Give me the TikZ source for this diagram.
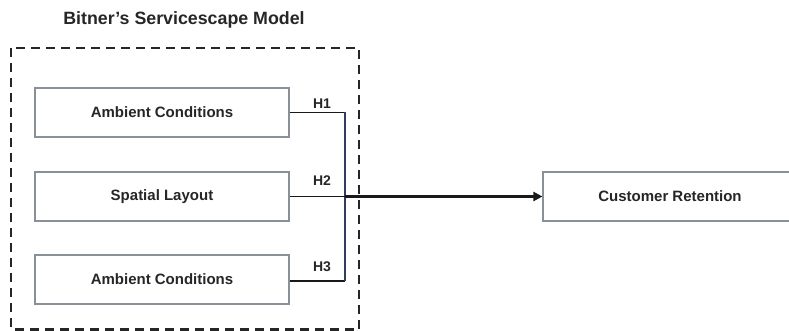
\documentclass[tikz,border=0pt]{standalone}
\usepackage{fontspec}
\setmainfont{Liberation Sans}
\usetikzlibrary{arrows.meta}
\definecolor{boxgray}{HTML}{8A9098}
\definecolor{vline}{HTML}{2E3E5C}
\begin{document}
\begin{tikzpicture}[x=1pt,y=-1pt,
  factor/.style={draw=boxgray, line width=1.2pt, minimum width=254pt, minimum height=49pt, inner sep=0pt, font=\fontsize{15}{18}\selectfont\bfseries, text=black!85},
  hlab/.style={font=\fontsize{14}{16}\selectfont\bfseries, text=black!85},
  link/.style={line width=1.8pt, black!90}]
\useasboundingbox (0,0) rectangle (789,331);
\node[font=\fontsize{17.8}{20}\selectfont\bfseries, text=black!85] (title) at (184,20) {Bitner’s Servicescape Model};
\draw[line width=2.2pt, dash pattern=on 9pt off 6pt, black!85] (11,48) rectangle (359,329.5);
\node[factor] (b1) at (162,112.5) {Ambient Conditions};
\node[factor] (b2) at (162,196.5) {Spatial Layout};
\node[factor] (b3) at (162,279.5) {Ambient Conditions};
\node[factor, minimum width=254pt] (cr) at (670,196.5) {Customer Retention};
\coordinate (j1) at (345,112.5);
\coordinate (j2) at (345,196.5);
\coordinate (j3) at (345,281);
\draw[link] (b1.east) -- (j1);
\draw[link] (b3.east |- j3) -- (j3);
\draw[line width=1.4pt, vline] (j1) -- (j3);
\draw[link] (b2.east) -- (j2);
\draw[line width=2.6pt, black!90, -{Triangle[length=9pt,width=9pt]}] (j2) -- (cr.west);
\node[hlab] (h1) at (322,104) {H1};
\node[hlab] (h2) at (322,181) {H2};
\node[hlab] (h3) at (322,267) {H3};
\end{tikzpicture}
\end{document}
